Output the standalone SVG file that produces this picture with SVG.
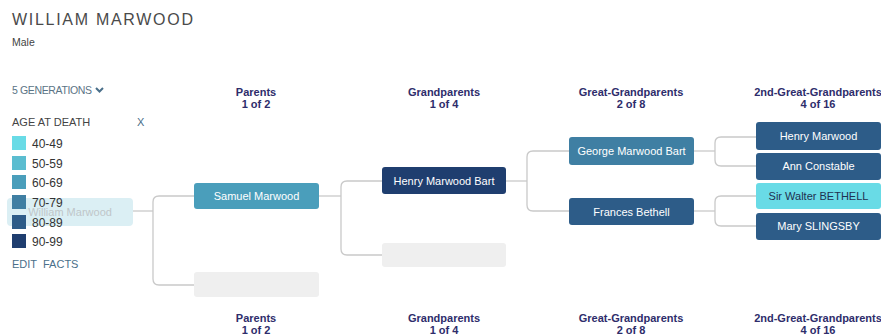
<svg xmlns="http://www.w3.org/2000/svg" width="881" height="335" viewBox="0 0 881 335">
<style>
text{font-family:"Liberation Sans",Arial,sans-serif}
.hd{font-size:11px;font-weight:bold;fill:#2e2d6b;text-anchor:middle}
.lg{font-size:12px;fill:#333}
.nt{font-size:11px;fill:#fff;text-anchor:middle}
.ln{fill:none;stroke:#c9c9c9;stroke-width:1.3}
.c60{fill:#4a9ebb}.c70{fill:#3f7fa3}.c80{fill:#2d5c88}.c90{fill:#1f3e6f}.c40{fill:#69dbe6}.c50{fill:#5bbdd0}
.emp{fill:#efefef}
.lnk{font-size:11px;fill:#4a6f8a}
</style>
<rect width="881" height="335" fill="#fff"/>
<text x="12" y="25" font-size="16" fill="#4a4a4a" textLength="181" lengthAdjust="spacing">WILLIAM MARWOOD</text>
<text x="12" y="46" font-size="10.5" fill="#444">Male</text>
<text x="12" y="94" font-size="10.5" fill="#5a7385" textLength="80" lengthAdjust="spacing">5 GENERATIONS</text>
<path d="M96 88 L99.5 91.5 L103 88" fill="none" stroke="#4a6f8a" stroke-width="2"/>
<g id="headers-top">
<text class="hd" x="256" y="96">Parents</text><text class="hd" x="256" y="108">1 of 2</text>
<text class="hd" x="444" y="96">Grandparents</text><text class="hd" x="444" y="108">1 of 4</text>
<text class="hd" x="631" y="96">Great-Grandparents</text><text class="hd" x="631" y="108">2 of 8</text>
<text class="hd" x="818" y="96">2nd-Great-Grandparents</text><text class="hd" x="818" y="108">4 of 16</text>
</g>
<g id="headers-bottom">
<text class="hd" x="256" y="322">Parents</text><text class="hd" x="256" y="334">1 of 2</text>
<text class="hd" x="444" y="322">Grandparents</text><text class="hd" x="444" y="334">1 of 4</text>
<text class="hd" x="631" y="322">Great-Grandparents</text><text class="hd" x="631" y="334">2 of 8</text>
<text class="hd" x="818" y="322">2nd-Great-Grandparents</text><text class="hd" x="818" y="334">4 of 16</text>
</g>
<g id="connectors">
<path class="ln" d="M133 211 H153"/>
<path class="ln" d="M194 196 H159 Q153 196 153 202 V279 Q153 285 159 285 H194"/>
<path class="ln" d="M319 196 H341"/>
<path class="ln" d="M382 181 H347 Q341 181 341 187 V249 Q341 255 347 255 H382"/>
<path class="ln" d="M506 181 H527"/>
<path class="ln" d="M569 151 H533 Q527 151 527 157 V205 Q527 211 533 211 H569"/>
<path class="ln" d="M694 151 H715"/>
<path class="ln" d="M756 137 H721 Q715 137 715 143 V160 Q715 166 721 166 H756"/>
<path class="ln" d="M694 211 H715"/>
<path class="ln" d="M756 196 H721 Q715 196 715 202 V220 Q715 226 721 226 H756"/>
</g>
<g id="n-william"><rect x="7" y="198" width="126" height="28" rx="4" fill="#dbeff4"/><text x="70" y="216" font-size="11" fill="#bfc6c9" text-anchor="middle">William Marwood</text></g>
<g id="legend">
<text x="12" y="126" font-size="11" fill="#444">AGE AT DEATH</text>
<text x="137" y="126" font-size="11" fill="#4a6f8a">X</text>
<rect class="c40" x="12" y="136" width="14" height="14"/><text class="lg" x="32" y="148">40-49</text>
<rect class="c50" x="12" y="156" width="14" height="14"/><text class="lg" x="32" y="168">50-59</text>
<rect class="c60" x="12" y="175" width="14" height="14"/><text class="lg" x="32" y="187">60-69</text>
<rect class="c70" x="12" y="195" width="14" height="14"/><text class="lg" x="32" y="207">70-79</text>
<rect class="c80" x="12" y="215" width="14" height="14"/><text class="lg" x="32" y="227">80-89</text>
<rect class="c90" x="12" y="234" width="14" height="14"/><text class="lg" x="32" y="246">90-99</text>
<text class="lnk" x="12" y="268">EDIT</text><text class="lnk" x="43" y="268">FACTS</text>
</g>
<g id="n-samuel"><rect class="c60" x="194" y="183" width="125" height="26" rx="3"/><text class="nt" x="256.5" y="200">Samuel Marwood</text></g>
<g id="n-parent2"><rect class="emp" x="194" y="272" width="125" height="25" rx="3"/></g>
<g id="n-henrybart"><rect class="c90" x="382" y="167" width="124" height="27" rx="3"/><text class="nt" x="444" y="185">Henry Marwood Bart</text></g>
<g id="n-gp2"><rect class="emp" x="382" y="243" width="124" height="24" rx="3"/></g>
<g id="n-george"><rect class="c70" x="569" y="137" width="125" height="28" rx="3"/><text class="nt" x="631.5" y="155">George Marwood Bart</text></g>
<g id="n-frances"><rect class="c80" x="569" y="198" width="125" height="27" rx="3"/><text class="nt" x="631.5" y="216">Frances Bethell</text></g>
<g id="n-henry"><rect class="c80" x="756" y="122" width="125" height="28" rx="3"/><text class="nt" x="818.5" y="140">Henry Marwood</text></g>
<g id="n-ann"><rect class="c80" x="756" y="153" width="125" height="27" rx="3"/><text class="nt" x="818.5" y="170">Ann Constable</text></g>
<g id="n-walter"><rect class="c40" x="756" y="183" width="125" height="26" rx="3"/><text x="818.5" y="200" font-size="11" fill="#1f3050" text-anchor="middle">Sir Walter BETHELL</text></g>
<g id="n-mary"><rect class="c80" x="756" y="213" width="125" height="27" rx="3"/><text class="nt" x="818.5" y="230">Mary SLINGSBY</text></g>
</svg>
